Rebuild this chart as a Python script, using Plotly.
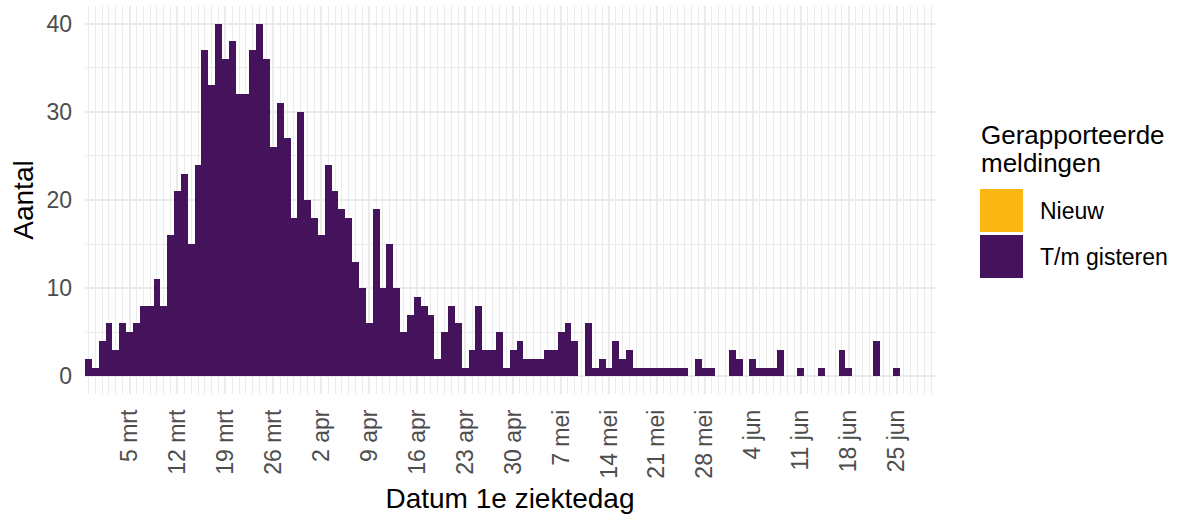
import pandas as pd
import plotly.graph_objects as go

# daily counts, first bar = 28 feb 2020
start_date = "2020-02-28"
tm_gisteren = [
    2, 1, 4, 6, 3, 6, 5, 6, 8, 8,
    11, 8, 16, 21, 23, 15, 24, 37, 33, 40,
    36, 38, 32, 32, 37, 40, 36, 26, 31, 27,
    18, 30, 20, 18, 16, 24, 21, 19, 18, 13,
    10, 6, 19, 10, 15, 10, 5, 7, 9, 8,
    7, 2, 5, 8, 6, 1, 3, 8, 3, 3,
    5, 1, 3, 4, 2, 2, 2, 3, 3, 5,
    6, 4, 0, 6, 1, 2, 1, 4, 2, 3,
    1, 1, 1, 1, 1, 1, 1, 1, 0, 2,
    1, 1, 0, 0, 3, 2, 0, 2, 1, 1,
    1, 3, 0, 0, 1, 0, 0, 1, 0, 0,
    3, 1, 0, 0, 0, 4, 0, 0, 1,
]

tick_dates = [
    "2020-03-05", "2020-03-12", "2020-03-19", "2020-03-26", "2020-04-02",
    "2020-04-09", "2020-04-16", "2020-04-23", "2020-04-30", "2020-05-07",
    "2020-05-14", "2020-05-21", "2020-05-28", "2020-06-04", "2020-06-11",
    "2020-06-18", "2020-06-25",
]
tick_labels = [
    "5 mrt", "12 mrt", "19 mrt", "26 mrt", "2 apr", "9 apr", "16 apr",
    "23 apr", "30 apr", "7 mei", "14 mei", "21 mei", "28 mei", "4 jun",
    "11 jun", "18 jun", "25 jun",
]
y_ticks = [0, 10, 20, 30, 40]

legend_names = ["Nieuw", "T/m gisteren"]
legend_colors = ["#FDB714", "#44135C"]

FONT = "Liberation Sans, Arial, sans-serif"
GRID = "#EBEBEB"
DAY_MS = 86400000

dates = pd.date_range(start_date, periods=len(tm_gisteren), freq="D")

fig = go.Figure()
fig.add_trace(
    go.Bar(
        x=dates,
        y=tm_gisteren,
        name="T/m gisteren",
        marker_color=legend_colors[1],
        marker_line_width=0,
        width=DAY_MS,
        showlegend=False,
    )
)

# plot area in pixels, used to place the hand-made legend
L, R, T, B = 85, 935, 6, 394


def px(x):
    return (x - L) / (R - L)


def py(y):
    return (B - y) / (B - T)


fig.update_layout(
    width=1177,
    height=515,
    margin=dict(l=L, r=1177 - R, t=T, b=515 - B),
    plot_bgcolor="white",
    paper_bgcolor="white",
    bargap=0,
    font=dict(family=FONT, color="black"),
    xaxis=dict(
        type="date",
        range=["2020-02-27 12:00", "2020-06-30 14:00"],
        tickmode="array",
        tickvals=tick_dates,
        ticktext=tick_labels,
        tickangle=-90,
        tickfont=dict(size=23, color="#4D4D4D"),
        ticklabelstandoff=10,
        showgrid=True,
        gridcolor=GRID,
        gridwidth=2.2,
        zeroline=False,
        showline=False,
        ticks="",
        minor=dict(dtick=DAY_MS, tick0=start_date, showgrid=True,
                   gridcolor=GRID, gridwidth=1.3),
        title=dict(text="Datum 1e ziektedag", font=dict(size=28), standoff=10),
        automargin=False,
    ),
    yaxis=dict(
        range=[-2, 42],
        tickmode="array",
        tickvals=y_ticks,
        tickfont=dict(size=23, color="#4D4D4D"),
        ticklabelstandoff=12,
        showgrid=True,
        gridcolor=GRID,
        gridwidth=2.2,
        zeroline=False,
        showline=False,
        ticks="",
        minor=dict(dtick=5, tick0=0, showgrid=True, gridcolor=GRID, gridwidth=1.3),
        title=dict(text="Aantal", font=dict(size=28), standoff=4),
        automargin=False,
    ),
)

# legend drawn by hand so the keys get the large square look
fig.add_annotation(
    x=px(979), y=py(135), xref="paper", yref="paper",
    text="Gerapporteerde", showarrow=False, xanchor="left", yanchor="middle",
    font=dict(size=26, color="black"),
)
fig.add_annotation(
    x=px(979), y=py(163), xref="paper", yref="paper",
    text="meldingen", showarrow=False, xanchor="left", yanchor="middle",
    font=dict(size=26, color="black"),
)
key_tops = [189, 235]
for name, color, top in zip(legend_names, legend_colors, key_tops):
    fig.add_shape(
        type="rect", xref="paper", yref="paper",
        x0=px(980), x1=px(1023), y0=py(top), y1=py(top + 43),
        fillcolor=color, line_width=0,
    )
    fig.add_annotation(
        x=px(1038), y=py(top + 22), xref="paper", yref="paper",
        text=name, showarrow=False, xanchor="left", yanchor="middle",
        font=dict(size=23, color="black"),
    )

# drop the default 8px page margin so the figure sits at the window corner
fig.write_html(
    "out.html",
    config={"displayModeBar": False},
    post_script="document.body.style.margin = '0px';",
)
